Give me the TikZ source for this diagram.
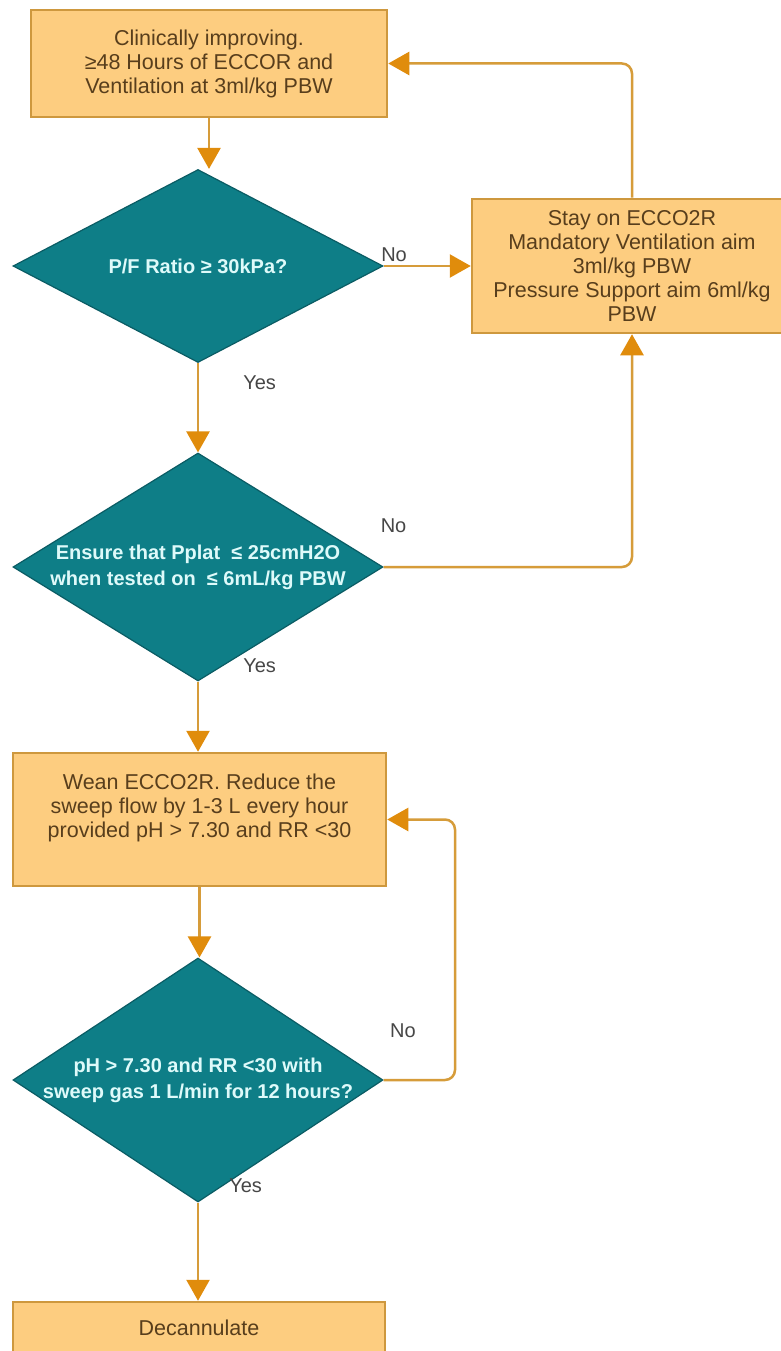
\documentclass[tikz,border=0pt]{standalone}
\usepackage{fontspec}
\setmainfont{Liberation Sans}
\usetikzlibrary{shapes.geometric,arrows.meta,positioning}
\definecolor{boxfill}{RGB}{253,205,128}
\definecolor{boxline}{RGB}{206,152,62}
\definecolor{boxtext}{RGB}{88,62,28}
\definecolor{tealfill}{RGB}{14,126,135}
\definecolor{tealline}{RGB}{10,92,100}
\definecolor{tealtext}{RGB}{222,250,250}
\definecolor{flowline}{RGB}{214,156,58}
\definecolor{flowtip}{RGB}{224,140,12}
\definecolor{lbltext}{RGB}{70,70,70}

\begin{document}
\begin{tikzpicture}[x=1pt,y=-1pt]
  \tikzstyle{proc}=[draw=boxline,fill=boxfill,line width=2.5pt,rectangle,inner sep=0pt,text=boxtext,align=center,font=\fontsize{21.5}{24}\selectfont]
  \tikzstyle{decision}=[draw=tealline,fill=tealfill,line width=1.2pt,diamond,inner sep=0pt,minimum width=370pt]
  \tikzstyle{dtext}=[text=tealtext,align=center,font=\fontsize{20}{26}\selectfont\bfseries]
  \tikzstyle{flow}=[draw=flowline,line width=2.5pt,rounded corners=10pt,-{Triangle[length=21pt,width=23pt,color=flowtip]}]
  \tikzstyle{lbl}=[text=lbltext,inner sep=0pt,font=\fontsize{20}{24}\selectfont]
  \useasboundingbox (0,0) rectangle (781,1351);
  \fill[white] (0,0) rectangle (781,1351);
  \node[proc,minimum width=356pt,minimum height=107pt] (b1) at (209,63.5) {Clinically improving.\\≥48 Hours of ECCOR and\\Ventilation at 3ml/kg PBW};
  \node[decision,minimum height=193pt] (d1) at (198,266) {};
  \node[dtext] (q1) at (d1) {P/F Ratio ≥ 30kPa?};
  \node[proc,minimum width=320pt,minimum height=134pt] (b2) at (632,266) {Stay on ECCO2R\\Mandatory Ventilation aim\\3ml/kg PBW\\Pressure Support aim 6ml/kg\\PBW};
  \node[decision,minimum height=228pt] (d2) at (198,567) {};
  \node[dtext] (q2) at (d2) {Ensure that Pplat~~≤ 25cmH2O\\when tested on~~≤ 6mL/kg PBW};
  \node[proc,minimum width=373pt,minimum height=133pt] (b3) at (199.5,819.5) {};
  \node[proc,draw=none,fill=none] (t3) at ([yshift=11.5pt]b3.center) {Wean ECCO2R. Reduce the\\sweep flow by 1-3 L every hour\\provided pH > 7.30 and RR <30};
  \node[decision,minimum height=244pt] (d3) at (198,1080) {};
  \node[dtext] (q3) at (d3) {pH > 7.30 and RR <30 with\\sweep gas 1 L/min for 12 hours?};
  \node[proc,minimum width=372pt,minimum height=52pt] (b4) at (199,1328) {Decannulate};
  \coordinate (r3) at (455,950);

  \draw[flow] (b1.south) -- (b1.south |- d1.north);
  \draw[flow] (d1.east) -- node[lbl,pos=0.12,above=3pt] (n1) {No} (b2.west);
  \draw[flow] (b2.north) |- (b1.east);
  \draw[flow] (d1.south) -- node[lbl,pos=0,right=44pt,yshift=-20pt] (y1) {Yes} (d2.north);
  \draw[flow] (d2.east) -| node[lbl,pos=0.02,above=33pt] (n2) {No} (b2.south);
  \draw[flow] (d2.south) -- node[lbl,pos=0,right=44pt,yshift=16pt] (y2) {Yes} (d2.south |- b3.north);
  \draw[flow] (b3.south) -- (b3.south |- d3.north);
  \draw[flow] (d3.east) -| node[lbl,pos=0.135,above=41pt] (n3) {No} (r3) |- (b3.east);
  \draw[flow] (d3.south) -- node[lbl,pos=0,right=30pt,yshift=17pt] (y3) {Yes} (d3.south |- b4.north);
\end{tikzpicture}
\end{document}
